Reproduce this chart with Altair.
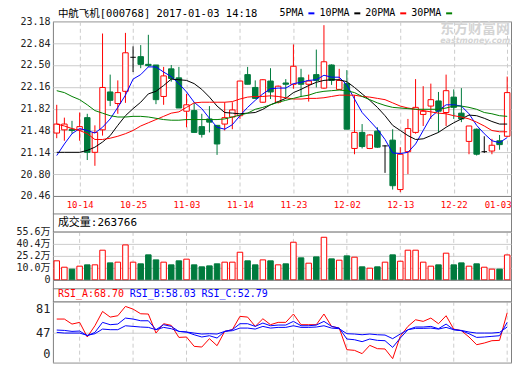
import altair as alt
import pandas as pd

# ---------------- data ----------------
dates = ["10-11", "10-12", "10-13", "10-14", "10-17", "10-18", "10-19", "10-20", "10-21", "10-24",
         "10-25", "10-26", "10-27", "10-28", "10-31", "11-01", "11-02", "11-03", "11-04", "11-07",
         "11-08", "11-09", "11-10", "11-11", "11-14", "11-15", "11-16", "11-17", "11-18", "11-21",
         "11-22", "11-23", "11-24", "11-25", "11-28", "11-29", "11-30", "12-01", "12-02", "12-05",
         "12-06", "12-07", "12-08", "12-09", "12-12", "12-13", "12-14", "12-15", "12-16", "12-19",
         "12-20", "12-21", "12-22", "12-23", "12-26", "12-27", "12-28", "12-29", "12-30", "01-03"]

open_ = [21.44, 21.49, 21.50, 21.49, 21.68, 21.14, 21.49, 22.08, 21.90, 22.09,
         22.62, 22.63, 22.51, 22.50, 22.01, 22.44, 22.30, 21.78, 21.79, 21.54,
         21.66, 21.56, 21.58, 21.69, 21.71, 22.35, 22.15, 21.92, 22.25, 21.92,
         22.22, 22.20, 22.30, 22.20, 22.35, 22.14, 22.50, 22.12, 22.21, 21.20,
         21.45, 21.20, 21.47, 21.24, 21.33, 20.56, 21.15, 21.45, 21.73, 21.86,
         21.94, 21.76, 22.00, 21.75, 21.31, 21.50, 21.15, 21.16, 21.32, 21.39]
high = [21.88, 21.68, 21.63, 21.76, 21.74, 21.56, 22.99, 22.35, 22.26, 23.00,
        22.79, 22.81, 22.97, 22.50, 22.47, 22.50, 22.47, 22.05, 21.92, 21.74,
        21.86, 21.56, 21.92, 21.92, 22.25, 22.47, 22.26, 22.28, 22.45, 22.18,
        22.28, 22.82, 22.44, 22.35, 22.74, 23.12, 22.51, 22.44, 22.42, 22.03,
        21.58, 21.42, 21.53, 21.25, 21.50, 21.22, 21.66, 22.28, 22.17, 22.21,
        22.08, 22.35, 22.12, 22.14, 21.55, 21.51, 21.39, 21.35, 21.41, 22.32]
low = [21.36, 21.32, 21.43, 21.32, 21.02, 20.93, 21.40, 21.86, 21.74, 21.91,
       22.39, 22.45, 22.47, 21.89, 21.88, 22.24, 21.83, 21.53, 21.45, 21.37,
       21.45, 21.10, 21.48, 21.50, 21.66, 22.20, 21.97, 21.91, 21.97, 21.90,
       21.97, 22.13, 22.00, 21.93, 22.15, 22.13, 22.19, 22.11, 21.50, 21.11,
       21.20, 21.19, 21.21, 20.82, 20.56, 20.52, 20.80, 21.43, 21.55, 21.66,
       21.45, 21.55, 21.66, 21.61, 21.11, 21.09, 21.13, 21.11, 21.18, 21.38]
close = [21.58, 21.58, 21.48, 21.54, 21.14, 21.45, 22.15, 21.95, 22.07, 22.69,
         22.62, 22.51, 22.49, 21.96, 22.33, 22.29, 21.83, 21.88, 21.45, 21.42,
         21.61, 21.27, 21.68, 21.80, 22.25, 22.20, 21.98, 22.27, 22.08, 22.17,
         22.20, 22.48, 22.20, 22.25, 22.26, 22.55, 22.26, 22.26, 21.50, 21.45,
         21.23, 21.41, 21.22, 21.24, 20.62, 21.11, 21.51, 21.84, 21.78, 21.96,
         21.78, 22.10, 21.84, 21.66, 21.55, 21.11, 21.15, 21.25, 21.26, 22.07]

ma5 = [21.09, 21.27, 21.43, 21.51, 21.48, 21.44, 21.53, 21.66, 21.84, 22.03,
       22.28, 22.35, 22.47, 22.47, 22.39, 22.32, 22.21, 22.08, 21.92, 21.82,
       21.67, 21.53, 21.50, 21.57, 21.71, 21.84, 21.95, 22.05, 22.13, 22.14,
       22.14, 22.21, 22.23, 22.26, 22.27, 22.34, 22.31, 22.31, 22.19, 21.97,
       21.76, 21.63, 21.50, 21.34, 21.13, 21.12, 21.14, 21.27, 21.48, 21.69,
       21.79, 21.88, 21.88, 21.86, 21.74, 21.56, 21.43, 21.32, 21.29, 21.37]
ma10 = [21.14, 21.14, 21.14, 21.14, 21.17, 21.22, 21.30, 21.40, 21.56, 21.71,
        21.82, 21.92, 22.05, 22.09, 22.18, 22.28, 22.27, 22.26, 22.21, 22.12,
        22.00, 21.86, 21.76, 21.75, 21.74, 21.75, 21.76, 21.81, 21.88, 21.93,
        21.98, 22.07, 22.12, 22.18, 22.23, 22.26, 22.27, 22.27, 22.24, 22.15,
        22.05, 21.95, 21.84, 21.71, 21.56, 21.48, 21.40, 21.34, 21.35, 21.40,
        21.45, 21.53, 21.60, 21.66, 21.72, 21.71, 21.67, 21.62, 21.58, 21.58]
ma20 = [21.58, 21.55, 21.51, 21.48, 21.43, 21.34, 21.34, 21.36, 21.39, 21.43,
        21.48, 21.55, 21.60, 21.65, 21.70, 21.75, 21.77, 21.84, 21.91, 21.92,
        21.92, 21.92, 21.92, 21.93, 21.97, 22.00, 22.01, 22.01, 22.02, 22.01,
        21.99, 21.97, 21.97, 21.98, 21.98, 21.99, 22.01, 22.03, 22.03, 22.03,
        22.01, 22.00, 21.98, 21.96, 21.91, 21.86, 21.83, 21.81, 21.79, 21.77,
        21.75, 21.74, 21.71, 21.69, 21.66, 21.61, 21.55, 21.48, 21.46, 21.46]
ma30 = [22.10, 22.07, 22.01, 21.96, 21.88, 21.79, 21.75, 21.71, 21.69, 21.69,
        21.70, 21.70, 21.69, 21.67, 21.65, 21.64, 21.64, 21.65, 21.65, 21.65,
        21.65, 21.65, 21.66, 21.69, 21.72, 21.75, 21.81, 21.84, 21.88, 21.92,
        21.95, 21.98, 22.01, 22.03, 22.07, 22.09, 22.10, 22.11, 22.10, 22.07,
        22.01, 21.96, 21.91, 21.87, 21.84, 21.83, 21.82, 21.81, 21.81, 21.81,
        21.81, 21.83, 21.86, 21.86, 21.84, 21.81, 21.76, 21.74, 21.71, 21.70]

volume = [18.9, 10.8, 8.9, 12.1, 13.8, 13.8, 32.4, 16.3, 17.2, 39.1,
          17.2, 15.1, 26.5, 20.1, 17.2, 13.8, 18.9, 21.0, 13.8, 11.3,
          12.5, 15.1, 17.2, 17.2, 29.8, 18.9, 13.8, 20.1, 18.9, 13.8,
          15.1, 42.5, 22.7, 15.9, 23.9, 48.8, 21.4, 19.7, 25.2, 23.5,
          11.3, 9.7, 11.3, 17.2, 26.5, 18.4, 32.4, 32.4, 17.2, 12.1,
          13.8, 28.6, 13.8, 16.3, 12.1, 15.1, 10.8, 8.9, 8.9, 26.3766]

rsi_a = [61.7, 61.7, 56.1, 58.0, 39.6, 54.2, 70.2, 63.9, 65.4, 75.8,
         72.8, 67.6, 67.3, 45.7, 56.5, 54.6, 39.0, 39.6, 25.2, 24.1,
         37.0, 26.2, 47.9, 49.8, 64.7, 63.9, 53.5, 62.0, 55.4, 58.0,
         58.0, 67.3, 55.4, 55.4, 55.4, 67.3, 53.5, 51.6, 20.0, 19.0,
         13.9, 26.7, 21.6, 21.1, 6.2, 40.6, 53.5, 60.9, 59.1, 62.8,
         56.5, 65.4, 50.5, 48.7, 39.6, 27.7, 30.3, 33.9, 34.4, 68.70]
rsi_b = [49.4, 49.0, 47.9, 48.3, 41.6, 46.7, 58.0, 55.4, 56.1, 62.8,
         61.7, 59.8, 59.8, 49.8, 55.4, 53.5, 47.9, 47.2, 43.1, 39.6,
         41.6, 38.0, 47.9, 49.8, 56.5, 56.5, 53.5, 57.2, 54.2, 55.0,
         55.0, 59.1, 54.2, 54.2, 55.0, 59.1, 53.5, 51.6, 36.5, 35.4,
         32.4, 36.5, 34.4, 33.9, 23.6, 38.0, 49.8, 52.8, 52.8, 53.5,
         50.9, 56.1, 49.8, 48.7, 44.7, 39.0, 39.6, 40.6, 41.6, 58.03]
rsi_c = [46.7, 45.7, 45.7, 45.7, 42.1, 44.7, 50.5, 49.8, 49.8, 54.2,
         53.5, 52.8, 52.4, 49.8, 52.4, 50.9, 47.9, 47.2, 45.7, 44.2,
         44.7, 44.2, 47.9, 48.7, 51.6, 51.6, 50.5, 53.5, 51.6, 52.4,
         52.4, 54.2, 52.4, 52.4, 52.8, 54.2, 51.6, 50.9, 44.7, 44.2,
         43.1, 44.2, 43.1, 42.6, 37.0, 44.2, 49.8, 51.3, 51.3, 51.6,
         50.5, 52.4, 49.8, 49.0, 47.2, 45.7, 45.7, 45.7, 46.7, 52.79]

price_ticks = [20.46, 20.80, 21.14, 21.48, 21.82, 22.16, 22.50, 22.84, 23.18]
vol_ticks = [0, 10.0, 25.2, 40.4, 55.6]
rsi_ticks = [0, 47, 81]
date_ticks = [3, 10, 17, 24, 31, 38, 45, 52, 59]
ma_names = ["5PMA", "10PMA", "20PMA", "30PMA"]
title_text = "中航飞机[000768] 2017-01-03 14:18"

# ---------------- styling ----------------
MONO = "DejaVu Sans Mono, Noto Sans CJK SC"
RED = "#ff0000"
GREEN = "#007a3d"
BLUE = "#0000ff"
FRAME = "#808080"
GRID = "#cccccc"
W = 459
H_MAIN, H_VOL, H_RSI = 175, 84, 83

df = pd.DataFrame({
    "i": list(range(len(dates))), "date": dates,
    "open": open_, "high": high, "low": low, "close": close,
    "5PMA": ma5, "10PMA": ma10, "20PMA": ma20, "30PMA": ma30,
    "vol": volume, "rsi_a": rsi_a, "rsi_b": rsi_b, "rsi_c": rsi_c,
})
one = pd.DataFrame({"a": [0]})

XS = alt.Scale(domain=[-0.5, len(dates) - 0.5], nice=False, zero=False)
PS = alt.Scale(domain=[price_ticks[0], price_ticks[-1]], nice=False, zero=False)
# the volume axis of the source is linear above 10.0万 and compressed below it
VS = alt.Scale(domain=[vol_ticks[0], vol_ticks[1], vol_ticks[-1]], range=[H_VOL, 72, 36],
               nice=False, zero=False)
RS = alt.Scale(domain=rsi_ticks, range=[H_RSI, 52.5, 22], nice=False, zero=False)

date_expr = "[" + ",".join("'%s'" % d for d in dates) + "][datum.value]"
x_axis = alt.Axis(values=date_ticks, labelExpr=date_expr, grid=True, gridDash=[4, 3],
                  gridColor=GRID, domain=False, ticks=False, labelColor=RED, labelFont=MONO,
                  labelFontSize=9, labelPadding=5, labelAngle=0, title=None,
                  labelFlush=5, labelFlushOffset=4, labelOverlap=False)
y_axis = alt.Axis(values=price_ticks, format=".2f", grid=True, gridColor=GRID, domain=False,
                  ticks=False, labelFont=MONO, labelFontSize=10, labelColor="#222222",
                  labelPadding=3, title=None, labelFlush=False, labelOverlap=False)
vol_axis = alt.Axis(values=vol_ticks, grid=True, gridColor=GRID, domain=False, ticks=False,
                    labelFont=MONO, labelFontSize=10, labelColor="#222222", labelPadding=3,
                    title=None, labelFlush=False, labelOverlap=False,
                    labelExpr="datum.value == 0 ? '0' : format(datum.value, '.1f') + '万'")
rsi_axis = alt.Axis(values=rsi_ticks, grid=True, gridColor=GRID, domain=False, ticks=False,
                    labelFont=MONO, labelFontSize=12, labelColor="#222222", labelPadding=3,
                    labelFlush=True, labelFlushOffset=-2, labelOverlap=False, format="d",
                    title=None)

base = alt.Chart(df).transform_calculate(
    x1="datum.i - 0.36", x2="datum.i + 0.36",
    dir="datum.close > datum.open ? 'up' : (datum.close < datum.open ? 'down' : 'flat')",
)
UP = "datum.dir == 'up'"
DOWN = "datum.dir == 'down'"
FLAT = "datum.dir == 'flat'"

# ---------------- main candlestick panel ----------------
MX = dict(scale=XS, axis=x_axis)
MY = dict(scale=PS, axis=y_axis)

wick_up = base.transform_filter(UP).mark_rule(color=RED, strokeWidth=1).encode(
    x=alt.X("i:Q", **MX), y=alt.Y("low:Q", **MY), y2="high:Q")
wick_dn = base.transform_filter(DOWN).mark_rule(color=GREEN, strokeWidth=1).encode(
    x=alt.X("i:Q", **MX), y=alt.Y("low:Q", **MY), y2="high:Q")
wick_fl = base.transform_filter(FLAT).mark_rule(color="black", strokeWidth=1).encode(
    x=alt.X("i:Q", **MX), y=alt.Y("low:Q", **MY), y2="high:Q")
body_up = base.transform_filter(UP).mark_rect(fill="white", stroke=RED, strokeWidth=1).encode(
    x=alt.X("x1:Q", **MX), x2="x2:Q", y=alt.Y("open:Q", **MY), y2="close:Q")
body_dn = base.transform_filter(DOWN).mark_rect(fill=GREEN, stroke=GREEN, strokeWidth=1).encode(
    x=alt.X("x1:Q", **MX), x2="x2:Q", y=alt.Y("open:Q", **MY), y2="close:Q")
body_fl = base.transform_filter(FLAT).mark_rule(color="black", strokeWidth=1).encode(
    x=alt.X("x1:Q", **MX), x2="x2:Q", y=alt.Y("open:Q", **MY))

legend_expr = ("datum.label == 'pad' ? '5PMA' : datum.label == '5PMA' ? '10PMA' : "
               "datum.label == '10PMA' ? '20PMA' : datum.label == '20PMA' ? '30PMA' : ''")
ma_lines = alt.Chart(df).transform_fold(ma_names, as_=["series", "val"]).mark_line(
    strokeWidth=1).encode(
    x=alt.X("i:Q", **MX),
    y=alt.Y("val:Q", **MY),
    color=alt.Color("series:N",
                    scale=alt.Scale(domain=["pad"] + ma_names,
                                    range=["rgba(0,0,0,0)", BLUE, "#000000", RED, "#008000"]),
                    legend=alt.Legend(orient="none", legendX=214, legendY=-13,
                                      direction="horizontal", title=None, symbolType="stroke",
                                      symbolSize=36, symbolStrokeWidth=2, labelFont=MONO,
                                      labelFontSize=10, labelColor="black", labelOffset=3,
                                      columnPadding=0, padding=0, labelExpr=legend_expr)),
    detail="series:N",
)

watermark1 = alt.Chart(one).mark_text(text="东方财富网", font="Noto Sans CJK SC", fontSize=14,
                                      fontWeight="bold", color="#d4d4d4", align="left",
                                      baseline="middle").encode(x=alt.value(388), y=alt.value(8))
watermark2 = alt.Chart(one).mark_text(text="eastmoney.com", font="DejaVu Sans", fontSize=8,
                                      fontWeight="bold", fontStyle="italic", color="#d4d4d4",
                                      align="left", baseline="middle").encode(x=alt.value(388), y=alt.value(20))

main = alt.layer(wick_up, wick_dn, wick_fl, body_up, body_dn, body_fl, ma_lines,
                 watermark1, watermark2).properties(
    width=W, height=H_MAIN,
    title=alt.TitleParams(title_text, anchor="start", frame="group", fontSize=10.5, font=MONO,
                          fontWeight="normal", color="black", offset=-3.5, dx=5),
)

# ---------------- volume panel ----------------
VX = dict(scale=XS, axis=None)
vol_up = base.transform_filter("datum.dir != 'down'").mark_rect(
    fill="white", stroke=RED, strokeWidth=1).encode(
    x=alt.X("x1:Q", **VX), x2="x2:Q",
    y=alt.Y("vol:Q", scale=VS, axis=vol_axis), y2=alt.datum(0))
vol_dn = base.transform_filter(DOWN).mark_rect(fill=GREEN, stroke=GREEN, strokeWidth=1).encode(
    x=alt.X("x1:Q", **VX), x2="x2:Q",
    y=alt.Y("vol:Q", scale=VS, axis=vol_axis), y2=alt.datum(0))
vgrid = alt.Chart(pd.DataFrame({"t": date_ticks})).mark_rule(
    color=GRID, strokeDash=[4, 3], strokeWidth=1).encode(
    x=alt.X("t:Q", **VX), y=alt.value(36), y2=alt.value(H_VOL))
sep1 = alt.Chart(one).mark_rule(color=FRAME, strokeWidth=1).encode(
    x=alt.value(0), x2=alt.value(W), y=alt.value(18))
sep2 = alt.Chart(one).mark_rule(color=FRAME, strokeWidth=1).encode(
    x=alt.value(0), x2=alt.value(W), y=alt.value(36))
vol_head = alt.Chart(one).mark_text(
    text="成交量:%d" % round(volume[-1] * 10000), font=MONO, fontSize=11, color="black",
    align="left", baseline="middle").encode(x=alt.value(5), y=alt.value(27))
vol_chart = alt.layer(vgrid, vol_up, vol_dn, sep1, sep2, vol_head).properties(
    width=W, height=H_VOL)

# ---------------- RSI panel ----------------
rsi_la = alt.Chart(df).mark_line(color=RED, strokeWidth=1).encode(
    x=alt.X("i:Q", **VX), y=alt.Y("rsi_a:Q", scale=RS, axis=rsi_axis))
rsi_lb = alt.Chart(df).mark_line(color=BLUE, strokeWidth=1).encode(
    x=alt.X("i:Q", **VX), y=alt.Y("rsi_b:Q", scale=RS, axis=rsi_axis))
rsi_lc = alt.Chart(df).mark_line(color=BLUE, strokeWidth=1).encode(
    x=alt.X("i:Q", **VX), y=alt.Y("rsi_c:Q", scale=RS, axis=rsi_axis))
rgrid = alt.Chart(pd.DataFrame({"t": date_ticks})).mark_rule(
    color=GRID, strokeDash=[4, 3], strokeWidth=1).encode(
    x=alt.X("t:Q", **VX), y=alt.value(22), y2=alt.value(H_RSI))
rsep1 = alt.Chart(one).mark_rule(color=FRAME, strokeWidth=1).encode(
    x=alt.value(0), x2=alt.value(W), y=alt.value(9))
rsep2 = alt.Chart(one).mark_rule(color=FRAME, strokeWidth=1).encode(
    x=alt.value(0), x2=alt.value(W), y=alt.value(22))
heads = []
for k, (name, vals, col) in enumerate([("RSI_A", rsi_a, RED), ("RSI_B", rsi_b, BLUE),
                                        ("RSI_C", rsi_c, BLUE)]):
    heads.append(alt.Chart(one).mark_text(
        text="%s:%.2f" % (name, vals[-1]), font=MONO, fontSize=10, color=col,
        align="left", baseline="middle").encode(x=alt.value(5 + 72 * k), y=alt.value(14)))
rsi_chart = alt.layer(rgrid, rsi_la, rsi_lb, rsi_lc, rsep1, rsep2, *heads).properties(
    width=W, height=H_RSI)

chart = alt.vconcat(main, vol_chart, rsi_chart, spacing=0, bounds="flush").properties(
    padding={"left": 7, "top": 0, "right": 0, "bottom": 0},
    background="white",
).configure_view(stroke=FRAME, strokeWidth=1).configure_axis(labelFont=MONO)

chart.save("out.html", embed_options={"renderer": "svg", "actions": False})
